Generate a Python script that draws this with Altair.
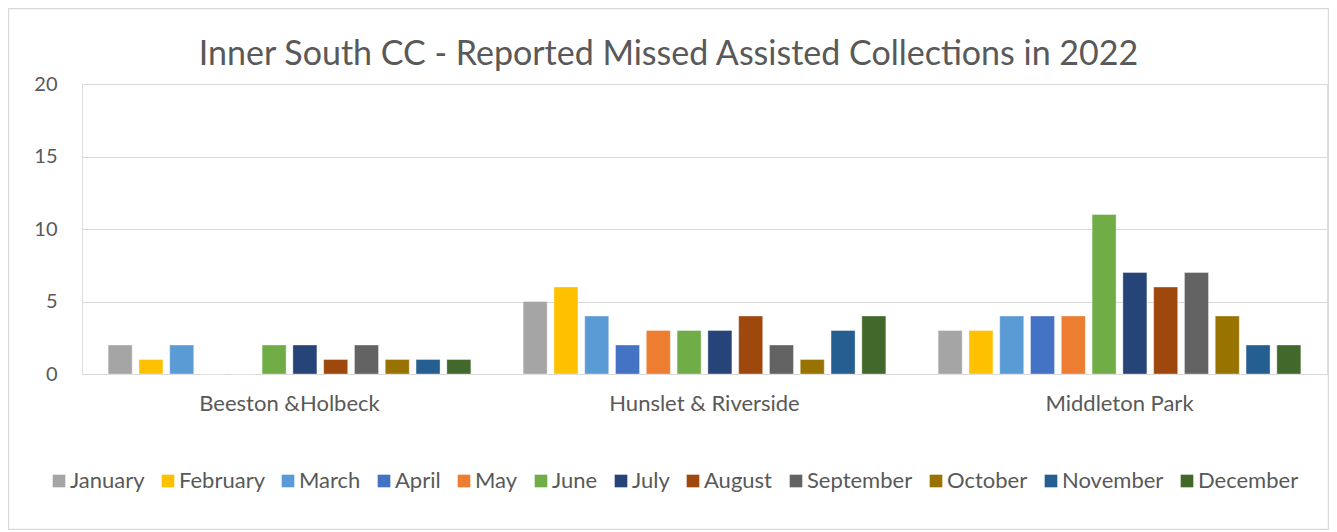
import altair as alt
import pandas as pd

wards = ["Beeston &Holbeck", "Hunslet & Riverside", "Middleton Park"]
months = ["January", "February", "March", "April", "May", "June", "July",
          "August", "September", "October", "November", "December"]
month_colors = ["#A5A5A5", "#FFC000", "#5B9BD5", "#4472C4", "#ED7D31", "#70AD47",
                "#264478", "#9E480E", "#636363", "#997300", "#255E91", "#43682B"]
beeston = [2, 1, 2, 0, 0, 2, 2, 1, 2, 1, 1, 1]
hunslet = [5, 6, 4, 2, 3, 3, 3, 4, 2, 1, 3, 4]
middleton = [3, 3, 4, 4, 4, 11, 7, 6, 7, 4, 2, 2]
y_ticks = [0, 5, 10, 15, 20]
title_text = "Inner South CC - Reported Missed Assisted Collections in 2022"

rows = []
for w, vals in zip(wards, [beeston, hunslet, middleton]):
    for m, v in zip(months, vals):
        rows.append({"ward": w, "month": m, "value": v})
df = pd.DataFrame(rows)

FONT = "Lato"
TXT = "#595959"
W, H = 1245, 290
PAD = {"left": 74, "top": 76, "right": 2, "bottom": 156}

bars = alt.Chart(df).mark_bar(stroke="white", strokeWidth=0.6, strokeOpacity=0.6).encode(
    x=alt.X("ward:N", sort=wards,
            scale=alt.Scale(paddingInner=0.126, paddingOuter=0.063),
            axis=alt.Axis(title=None, labelAngle=0, labelFontSize=22, labelColor=TXT,
                          labelFont=FONT, labelPadding=19, labelLimit=0,
                          ticks=False, domain=False)),
    xOffset=alt.XOffset("month:N", sort=months,
                        scale=alt.Scale(paddingInner=0.22, paddingOuter=0)),
    y=alt.Y("value:Q", scale=alt.Scale(domain=[0, 20]),
            axis=alt.Axis(values=y_ticks, title=None, grid=True, gridColor="#D9D9D9",
                          gridWidth=1.2, domain=False, ticks=False, labelPadding=25,
                          labelFontSize=20, labelColor=TXT, labelFont=FONT)),
    color=alt.Color("month:N", sort=months,
                    scale=alt.Scale(domain=months, range=month_colors),
                    legend=alt.Legend(title=None, orient="none", legendX=-34, legendY=386,
                                      direction="horizontal", columns=12,
                                      symbolType="square", symbolSize=160,
                                      symbolStrokeWidth=0, labelFontSize=22,
                                      labelFont=FONT, labelColor=TXT,
                                      columnPadding=12, labelOffset=0)),
)

title = alt.Chart(pd.DataFrame({"t": [title_text]})).mark_text(
    font=FONT, fontSize=34, color=TXT, align="center", baseline="alphabetic"
).encode(text="t:N", x=alt.value(586.5), y=alt.value(-19))

border = alt.Chart(pd.DataFrame({"a": [0]})).mark_rect(
    fill="transparent", stroke="#D9D9D9", strokeWidth=1.2
).encode(
    x=alt.value(-PAD["left"] + 0.6), x2=alt.value(W + PAD["right"] - 0.6),
    y=alt.value(-PAD["top"] + 0.6), y2=alt.value(H + PAD["bottom"] - 0.6),
)

chart = alt.layer(bars, title, border).properties(
    width=W, height=H,
    autosize=alt.AutoSizeParams(type="none"),
    padding=PAD,
).configure_view(stroke=None).configure(background="white")

chart.save("out.html", embed_options={"renderer": "svg", "actions": False})
